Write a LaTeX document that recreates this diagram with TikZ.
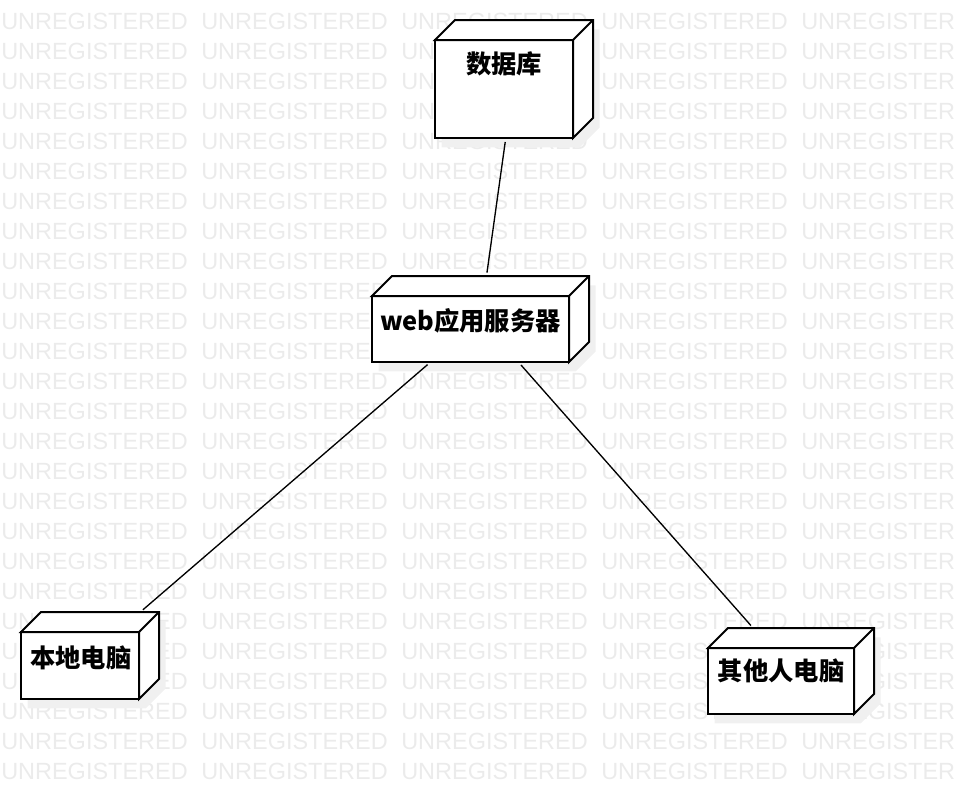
\documentclass[tikz,border=0pt]{standalone}
\usepackage{fontspec}
\setmainfont{Liberation Sans}
\newfontfamily\cjk{Noto Sans CJK SC}
\usepackage{tikz}
\usetikzlibrary{positioning}
\usetikzlibrary{backgrounds}

\tikzset{
  devnode/.style={rectangle, inner sep=0pt, outer sep=0pt},
  devline/.style={black, line width=1.5pt, line join=miter},
  devname/.style={inner sep=0pt, font=\cjk\bfseries\fontsize{19}{22}\selectfont},
  link/.style={black, line width=1pt, shorten <=3pt, shorten >=2.5pt},
  wmark/.style={black!8, inner sep=0pt, anchor=base west, font=\fontsize{17.6}{20}\selectfont},
  dshadow/.style={fill=black!6, draw=none}
}

\begin{document}
\begin{tikzpicture}[x=0.75pt, y=-0.75pt]
\useasboundingbox (0,0) rectangle (956,796);

\node[devnode, minimum width=118.5pt, minimum height=88.5pt] (db) at (514,79) {};
\node[devnode, minimum width=162.75pt, minimum height=64.5pt] (web) at (480.5,319) {};
\node[devnode, minimum width=103.5pt, minimum height=65.25pt] (local) at (90,655.5) {};
\node[devnode, minimum width=124.5pt, minimum height=64.5pt] (other) at (791,671) {};

\foreach \n in {db,web,local,other}{
  \draw[devline, fill=white] (\n.south west) rectangle ([xshift=-15pt,yshift=-15pt]\n.north east);
  \draw[devline, fill=white] ([yshift=-15pt]\n.north west) -- ([xshift=15pt]\n.north west) -- (\n.north east) -- ([yshift=15pt]\n.south east) -- ([xshift=-15pt]\n.south east) -- ([xshift=-15pt,yshift=-15pt]\n.north east) -- cycle;
  \draw[devline] ([xshift=-15pt,yshift=-15pt]\n.north east) -- (\n.north east);
}

\node[devname, below=23.5pt of db.north, xshift=-7.5pt] (dbname) {数据库};
\node[devname, below=24.5pt of web.north, xshift=-7.5pt] (webname) {web应用服务器};
\node[devname, below=25pt of local.north, xshift=-7pt] (localname) {本地电脑};
\node[devname, below=23pt of other.north, xshift=-7.5pt] (othername) {其他人电脑};

\draw[link] (db) -- (web);
\draw[link] (web) -- (local);
\draw[link] (web) -- (other);

\begin{scope}[on background layer]
\foreach \i in {0,...,4}
  \foreach \k in {-1,...,25}
    \node[wmark] (wm-\i-\k) at (200*\i+1, 29+30*\k) {UNREGISTERED};
\foreach \n in {db,web,local,other}
  \fill[dshadow] ([xshift=5pt,yshift=-7pt]\n.south west) -- ([xshift=5pt,yshift=-22pt]\n.north west) -- ([xshift=20pt,yshift=-7pt]\n.north west) -- ([xshift=5pt,yshift=-7pt]\n.north east) -- ([xshift=5pt,yshift=8pt]\n.south east) -- ([xshift=-10pt,yshift=-7pt]\n.south east) -- cycle;
\end{scope}
\end{tikzpicture}
\end{document}
